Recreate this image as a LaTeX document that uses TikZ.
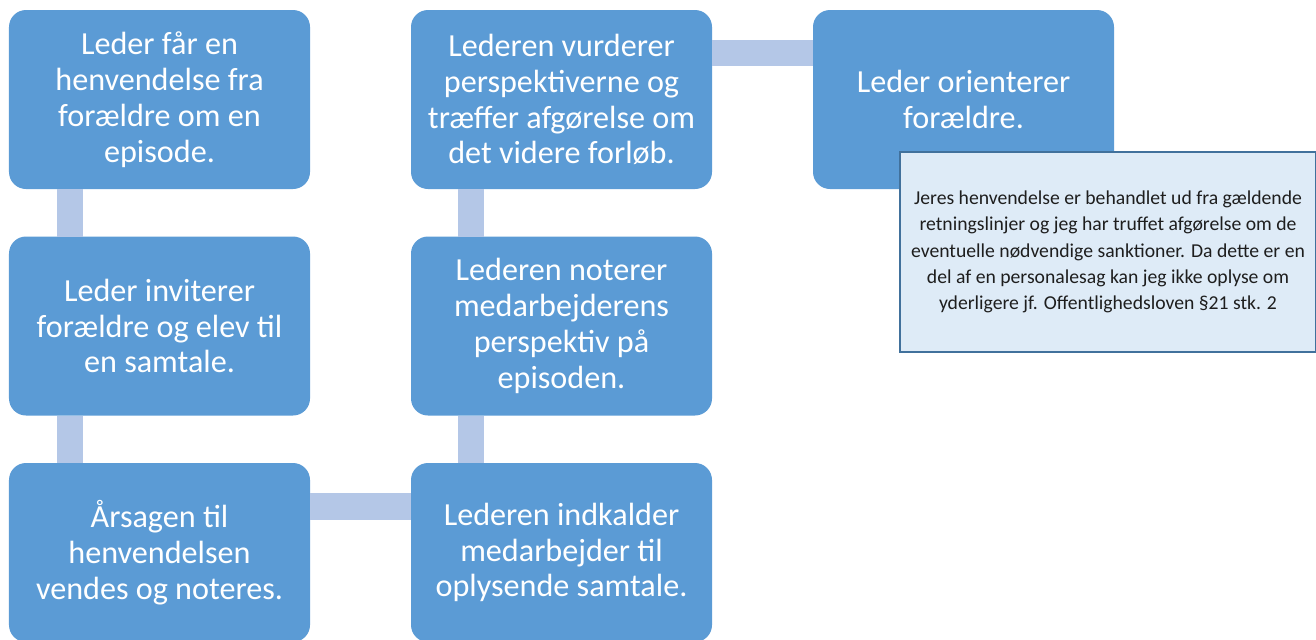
\documentclass[tikz,border=0pt]{standalone}
\usepackage{fontspec}
\setmainfont{Carlito}
\usepackage{tikz}
\usetikzlibrary{positioning}
\definecolor{boxblue}{HTML}{5B9BD5}
\definecolor{barblue}{HTML}{B4C7E7}
\definecolor{notefill}{HTML}{DEEBF7}
\definecolor{noteline}{HTML}{41719C}
\definecolor{notetext}{HTML}{1E1E1E}

\begin{document}
\begin{tikzpicture}[fase/.style={rectangle, rounded corners=0.34cm, fill=boxblue, text=white, minimum width=6.02cm, minimum height=3.58cm, inner sep=0pt, outer sep=0pt, align=center, font=\fontsize{18.3}{20.4}\selectfont},
                    bar/.style={barblue, line width=0.53cm},
                    besked/.style={rectangle, draw=noteline, line width=0.7pt, fill=notefill, text=notetext, minimum width=8.32cm, minimum height=4cm, inner sep=0pt, outer sep=0pt, align=center, font=\fontsize{11.2}{15}\selectfont}]
            \useasboundingbox (0,0) rectangle (26.32,-12.78);
            % \draw[help lines] (0,0) grid (26,-12);
            \node[fase, anchor=north west] (b1) at (0.18,-0.2) {Leder får en\\henvendelse fra\\forældre om en\\episode.};
            \node[fase] (b2) [below = 0.95cm of b1] {Leder inviterer\\forældre og elev til\\en samtale.};
            \node[fase] (b3) [below = 0.95cm of b2] {Årsagen til\\henvendelsen\\vendes og noteres.};
            \node[fase] (b4) [right = 2.02cm of b3] {Lederen indkalder\\medarbejder til\\oplysende samtale.};
            \node[fase] (b5) [above = 0.95cm of b4] {Lederen noterer\\medarbejderens\\perspektiv på\\episoden.};
            \node[fase] (b6) [above = 0.95cm of b5] {Lederen vurderer\\perspektiverne og\\træffer afgørelse om\\det videre forløb.};
            \node[fase] (b7) [right = 2.02cm of b6] {Leder orienterer\\forældre.};
            
            \draw[bar] ([xshift=1.22cm]b1.south west) -- ([xshift=1.22cm]b2.north west);
            \draw[bar] ([xshift=1.22cm]b2.south west) -- ([xshift=1.22cm]b3.north west);
            \draw[bar] ([yshift=-0.87cm]b3.north east) -- ([yshift=-0.87cm]b4.north west);
            \draw[bar] ([xshift=1.2cm]b4.north west) -- ([xshift=1.2cm]b5.south west);
            \draw[bar] ([xshift=1.2cm]b5.north west) -- ([xshift=1.2cm]b6.south west);
            \draw[bar] ([yshift=-0.86cm]b6.north east) -- ([yshift=-0.86cm]b7.north west);
            
            \node[besked, anchor=north west] (note) at ([xshift=1.74cm, yshift=-2.84cm]b7.north west) {Jeres henvendelse er behandlet ud fra gældende\\retningslinjer og jeg har truffet afgørelse om de\\eventuelle nødvendige sanktioner. Da dette er en\\del af en personalesag kan jeg ikke oplyse om\\yderligere jf. Offentlighedsloven §21 stk. 2};
        \end{tikzpicture}
\end{document}
